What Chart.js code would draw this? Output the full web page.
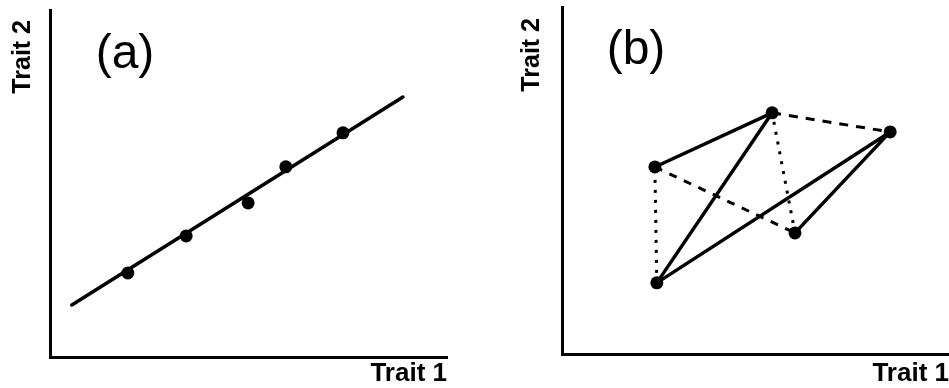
<!DOCTYPE html>
<html>
<head>
<meta charset="utf-8">
<script src="https://cdn.jsdelivr.net/npm/chart.js@4.4.0/dist/chart.umd.min.js"></script>
<style>
  body { margin: 0; background: #fff; }
  #wrap { position: relative; width: 949px; height: 388px; }
  canvas { position: absolute; top: 0; }
</style>
</head>
<body>
<div id="wrap">
  <canvas id="panelA" width="475" height="388" style="left:0"></canvas>
  <canvas id="panelB" width="474" height="388" style="left:475px"></canvas>
</div>
<script>
// ========= Data =========
const xTitle = 'Trait 1';
const yTitle = 'Trait 2';
const panelNames = ['(a)', '(b)'];

// panel (a): observed points and the fitted line
const aX = [19.6, 34.3, 49.9, 59.4, 73.8];
const aY = [24.2, 34.9, 44.4, 54.8, 64.6];
const fitX = [5.5, 88.9];
const fitY = [15.0, 74.9];

// panel (b): five points, joined two ways
const bX = [24.0, 54.3, 84.8, 60.2, 24.5];
const bY = [53.9, 69.5, 64.0, 34.9, 20.5];
const solidOrder = [0, 1, 4, 2, 3];
const dashedOrder = [4, 0, 3, 1, 2];
const dashPatterns = [[3, 7], [8, 8], [3, 7], [9, 8]];

const font = '"Liberation Sans", Arial, Helvetica, sans-serif';

// ========= Labels plugin: panel letter and rotated y title =========
const panelLabel = {
  id: 'panelLabel',
  afterDraw(chart, args, opts) {
    const { ctx, chartArea } = chart;
    ctx.save();
    ctx.fillStyle = '#000';
    ctx.font = '48px ' + font;
    ctx.textAlign = 'center';
    ctx.textBaseline = 'middle';
    ctx.fillText(opts.text, chartArea.left + opts.dx, opts.y);

    // y title, reads bottom to top
    ctx.translate(opts.yTitleX, opts.yTitleEnd);
    ctx.rotate(-Math.PI / 2);
    ctx.font = 'bold 25px ' + font;
    ctx.textAlign = 'right';
    ctx.fillText(yTitle, 0, 0);
    ctx.restore();
  }
};

function makeOptions(cfg) {
  return {
    responsive: false,
    animation: false,
    devicePixelRatio: 1,
    layout: {
      autoPadding: false,
      padding: { left: 0, right: cfg.padRight, top: cfg.padTop, bottom: 0 }
    },
    plugins: {
      legend: { display: false },
      tooltip: { enabled: false },
      panelLabel: {
        text: cfg.label, dx: cfg.labelDx, y: cfg.labelY,
        yTitleX: cfg.yTitleX, yTitleEnd: cfg.yTitleEnd
      }
    },
    scales: {
      x: {
        type: 'linear', min: 0, max: 100,
        grid: { display: false },
        ticks: { display: false },
        border: { display: true, width: 3, color: '#000' },
        title: {
          display: true, text: xTitle, align: 'end', color: '#000',
          font: { family: font, size: 26, weight: 'bold', lineHeight: 1 },
          padding: { top: 0, bottom: 1 }
        },
        afterFit: s => { s.height = cfg.xHeight; }
      },
      y: {
        type: 'linear', min: 0, max: 100,
        grid: { display: false },
        ticks: { display: false },
        border: { display: true, width: 3, color: '#000' },
        title: { display: false },
        afterFit: s => { s.width = cfg.yWidth; }
      }
    }
  };
}

// ========= Panel (a) =========
new Chart(document.getElementById('panelA'), {
  type: 'scatter',
  data: {
    datasets: [
      {
        data: aX.map((x, i) => ({ x: x, y: aY[i] })),
        pointRadius: 6.5,
        pointBackgroundColor: '#000',
        pointBorderWidth: 0
      },
      {
        data: fitX.map((x, i) => ({ x: x, y: fitY[i] })),
        showLine: true,
        borderColor: '#000',
        borderWidth: 3.5,
        borderCapStyle: 'round',
        pointRadius: 0
      }
    ]
  },
  options: makeOptions({
    padRight: 28, padTop: 10, xHeight: 31, yWidth: 50,
    label: panelNames[0], labelDx: 75, labelY: 55,
    yTitleX: 23, yTitleEnd: 20
  }),
  plugins: [panelLabel]
});

// ========= Panel (b) =========
new Chart(document.getElementById('panelB'), {
  type: 'scatter',
  data: {
    datasets: [
      {
        data: solidOrder.map(i => ({ x: bX[i], y: bY[i] })),
        showLine: true,
        borderColor: '#000',
        borderWidth: 3.5,
        borderJoinStyle: 'round',
        borderCapStyle: 'round',
        pointRadius: 6.5,
        pointBackgroundColor: '#000',
        pointBorderWidth: 0
      },
      {
        data: dashedOrder.map(i => ({ x: bX[i], y: bY[i] })),
        showLine: true,
        borderColor: '#000',
        borderWidth: 3,
        borderJoinStyle: 'round',
        pointRadius: 0,
        segment: { borderDash: c => dashPatterns[c.p0DataIndex] }
      }
    ]
  },
  options: makeOptions({
    padRight: 0, padTop: 7, xHeight: 34, yWidth: 87,
    label: panelNames[1], labelDx: 74, labelY: 51,
    yTitleX: 57, yTitleEnd: 18
  }),
  plugins: [panelLabel]
});
</script>
</body>
</html>
